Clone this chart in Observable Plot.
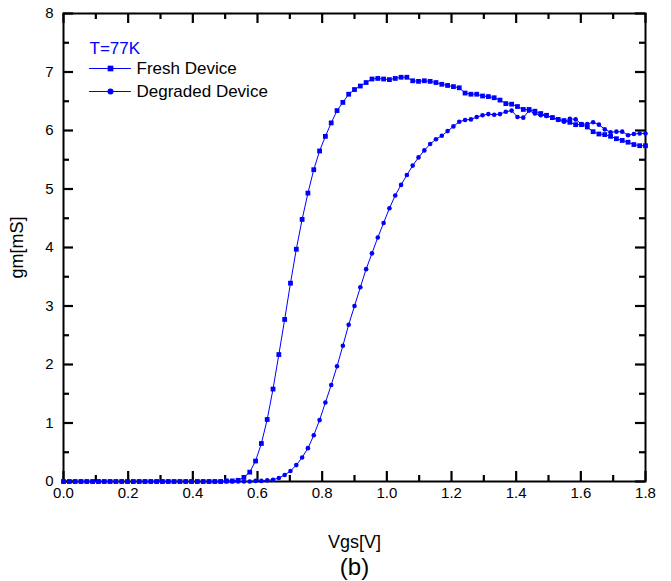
<!DOCTYPE html>
<html>
<head>
<meta charset="utf-8">
<script src="https://cdn.jsdelivr.net/npm/d3@7"></script>
<script src="https://cdn.jsdelivr.net/npm/@observablehq/plot@0.6"></script>
<style>
  body { margin: 0; background: #fff; }
  #chart { width: 671px; height: 581px; }
</style>
</head>
<body>
<div id="chart"></div>
<script>
// Gate-voltage sweep (V)
const vgs = [
  0.000, 0.018, 0.036, 0.054, 0.072, 0.090, 0.108, 0.126, 0.144, 0.162,
  0.180, 0.198, 0.216, 0.234, 0.252, 0.270, 0.288, 0.306, 0.324, 0.342,
  0.360, 0.378, 0.396, 0.414, 0.432, 0.450, 0.468, 0.486, 0.504, 0.522,
  0.540, 0.558, 0.576, 0.594, 0.612, 0.630, 0.648, 0.666, 0.684, 0.702,
  0.720, 0.738, 0.756, 0.774, 0.792, 0.810, 0.828, 0.846, 0.864, 0.882,
  0.900, 0.918, 0.936, 0.954, 0.972, 0.990, 1.008, 1.026, 1.044, 1.062,
  1.080, 1.098, 1.116, 1.134, 1.152, 1.170, 1.188, 1.206, 1.224, 1.242,
  1.260, 1.278, 1.296, 1.314, 1.332, 1.350, 1.368, 1.386, 1.404, 1.422,
  1.440, 1.458, 1.476, 1.494, 1.512, 1.530, 1.548, 1.566, 1.584, 1.602,
  1.620, 1.638, 1.656, 1.674, 1.692, 1.710, 1.728, 1.746, 1.764, 1.782,
  1.800
];

// Transconductance of the fresh device (mS)
const gmFresh = [
  0, 0, 0, 0, 0, 0, 0, 0, 0, 0,
  0, 0, 0, 0, 0, 0, 0, 0, 0, 0,
  0, 0, 0, 0, 0, 0, 0, 0, 0.01, 0.01,
  0.02, 0.07, 0.16, 0.35, 0.65, 1.06, 1.58, 2.17, 2.77, 3.39,
  3.97, 4.48, 4.93, 5.33, 5.65, 5.90, 6.13, 6.34, 6.48, 6.62,
  6.70, 6.76, 6.82, 6.88, 6.89, 6.88, 6.87, 6.89, 6.91, 6.91,
  6.85, 6.84, 6.85, 6.84, 6.82, 6.79, 6.77, 6.75, 6.73, 6.64,
  6.62, 6.62, 6.59, 6.58, 6.56, 6.52, 6.46, 6.45, 6.41, 6.36,
  6.36, 6.33, 6.29, 6.26, 6.22, 6.19, 6.17, 6.14, 6.10, 6.10,
  6.06, 5.98, 5.94, 5.93, 5.90, 5.86, 5.83, 5.80, 5.76, 5.74,
  5.74
];

// Transconductance of the degraded device (mS)
const gmDegraded = [
  0, 0, 0, 0, 0, 0, 0, 0, 0, 0,
  0, 0, 0, 0, 0, 0, 0, 0, 0, 0,
  0, 0, 0, 0, 0, 0, 0, 0, 0, 0,
  0, 0, 0, 0.01, 0.01, 0.02, 0.03, 0.06, 0.11, 0.18,
  0.28, 0.41, 0.57, 0.79, 1.05, 1.35, 1.65, 1.97, 2.32, 2.68,
  3.00, 3.32, 3.63, 3.90, 4.17, 4.42, 4.67, 4.89, 5.07, 5.24,
  5.40, 5.54, 5.66, 5.77, 5.85, 5.91, 5.99, 6.07, 6.15, 6.18,
  6.19, 6.23, 6.26, 6.28, 6.27, 6.28, 6.32, 6.34, 6.23, 6.22,
  6.34, 6.29, 6.26, 6.25, 6.22, 6.18, 6.15, 6.20, 6.19, 6.11,
  6.11, 6.14, 6.10, 6.02, 5.97, 5.98, 5.98, 5.92, 5.94, 5.95,
  5.95
];

// Axis ticks
const xMajor = [0, 0.2, 0.4, 0.6, 0.8, 1.0, 1.2, 1.4, 1.6, 1.8];
const xMinor = [0.1, 0.3, 0.5, 0.7, 0.9, 1.1, 1.3, 1.5, 1.7];
const yMajor = [0, 1, 2, 3, 4, 5, 6, 7, 8];
const yMinor = [0.5, 1.5, 2.5, 3.5, 4.5, 5.5, 6.5, 7.5];

const seriesNames = ["Fresh Device", "Degraded Device"];
const tempLabel = "T=77K";
const xTitle = "Vgs[V]";
const yTitle = "gm[mS]";
const panelTag = "(b)";

const blue = "#0000ff";
const font = "'Liberation Sans', Arial, Helvetica, sans-serif";

// plot geometry
const W = 671, H = 581;
const mL = 63, mR = 26, mT = 13, mB = 100;
const frameW = W - mL - mR, frameH = H - mT - mB;
const major = 10, minor = 6;

const fresh = vgs.map((v, i) => ({v, gm: gmFresh[i]}));
const degraded = vgs.map((v, i) => ({v, gm: gmDegraded[i]}));

// legend sample stroke
const strokeRight = {draw(ctx, l) { ctx.moveTo(0, 0); ctx.lineTo(l, 0); }};

const tickStyle = {stroke: "black", strokeWidth: 2.2};

const chart = Plot.plot({
  width: W,
  height: H,
  marginLeft: mL,
  marginRight: mR,
  marginTop: mT,
  marginBottom: mB,
  style: {fontFamily: font, fontSize: "15px", color: "black", background: "white"},
  x: {domain: [0, 1.8]},
  y: {domain: [0, 8]},
  marks: [
    // inward ticks: rules inset so only a short stub remains at each edge
    Plot.ruleX(xMajor, {x: d => d, insetTop: frameH - major, ...tickStyle}),
    Plot.ruleX(xMinor, {x: d => d, insetTop: frameH - minor, ...tickStyle}),
    Plot.ruleX(xMajor, {x: d => d, insetBottom: frameH - major, ...tickStyle}),
    Plot.ruleX(xMinor, {x: d => d, insetBottom: frameH - minor, ...tickStyle}),
    Plot.ruleY(yMajor, {y: d => d, insetRight: frameW - major, ...tickStyle}),
    Plot.ruleY(yMinor, {y: d => d, insetRight: frameW - minor, ...tickStyle}),
    Plot.ruleY(yMajor, {y: d => d, insetLeft: frameW - major, ...tickStyle}),
    Plot.ruleY(yMinor, {y: d => d, insetLeft: frameW - minor, ...tickStyle}),

    // tick labels
    Plot.axisX(xMajor, {anchor: "bottom", tickSize: 0, tickPadding: 6, tickFormat: d => d.toFixed(1), fontSize: 15, label: null}),
    Plot.axisY(yMajor, {anchor: "left", tickSize: 0, tickPadding: 10, tickFormat: d => String(d), fontSize: 15, label: null}),
    Plot.frame({stroke: "black", strokeWidth: 2}),

    // curves
    Plot.line(fresh, {x: "v", y: "gm", stroke: blue, strokeWidth: 1}),
    Plot.dot(fresh, {x: "v", y: "gm", symbol: "square", r: 2.7, fill: blue, stroke: "none"}),
    Plot.line(degraded, {x: "v", y: "gm", stroke: blue, strokeWidth: 1}),
    Plot.dot(degraded, {x: "v", y: "gm", symbol: "circle", r: 2.3, fill: blue, stroke: "none"}),

    // legend
    Plot.text([tempLabel], {frameAnchor: "top-left", dx: 26, dy: 35, text: d => d, fill: blue, fontSize: 17, textAnchor: "start", lineAnchor: "middle"}),
    Plot.vector([0], {frameAnchor: "top-left", dx: 26, dy: 55, length: 41, shape: strokeRight, stroke: blue, strokeWidth: 1.2, anchor: "start"}),
    Plot.dot([0], {frameAnchor: "top-left", dx: 47, dy: 55, symbol: "square", r: 3.2, fill: blue, stroke: "none"}),
    Plot.text([seriesNames[0]], {frameAnchor: "top-left", dx: 73, dy: 55, text: d => d, fill: "black", fontSize: 17, textAnchor: "start", lineAnchor: "middle"}),
    Plot.vector([0], {frameAnchor: "top-left", dx: 26, dy: 78, length: 41, shape: strokeRight, stroke: blue, strokeWidth: 1.2, anchor: "start"}),
    Plot.dot([0], {frameAnchor: "top-left", dx: 47, dy: 78, symbol: "circle", r: 3, fill: blue, stroke: "none"}),
    Plot.text([seriesNames[1]], {frameAnchor: "top-left", dx: 73, dy: 78, text: d => d, fill: "black", fontSize: 17, textAnchor: "start", lineAnchor: "middle"}),

    // axis titles
    Plot.text([xTitle], {frameAnchor: "bottom", dy: 61, text: d => d, fontSize: 18, textAnchor: "middle", lineAnchor: "middle"}),
    Plot.text([panelTag], {frameAnchor: "bottom", dy: 86, text: d => d, fontSize: 24, textAnchor: "middle", lineAnchor: "middle"}),
    Plot.text([yTitle], {frameAnchor: "left", dx: -46, text: d => d, fontSize: 18, rotate: -90, textAnchor: "middle", lineAnchor: "middle"})
  ]
});

document.getElementById("chart").append(chart);
</script>
</body>
</html>
